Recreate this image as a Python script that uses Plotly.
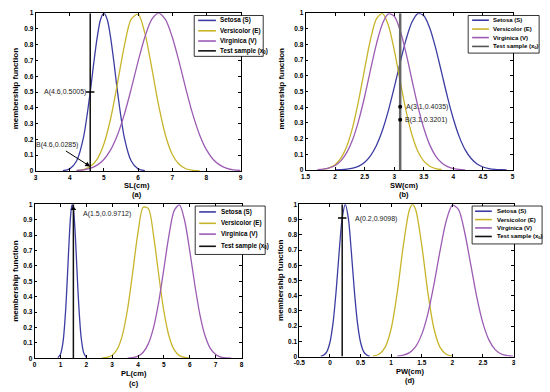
import plotly.graph_objects as go

# ---------------- data ----------------
# Panel (a): sepal length
sl_setosa_x = [3.8, 4.0, 4.2, 4.4, 4.6, 4.7, 4.8, 4.9, 5.0, 5.1, 5.2, 5.3, 5.4, 5.6, 5.8, 6.0, 6.2]
sl_setosa_y = [0.002, 0.013, 0.063, 0.21, 0.50, 0.678, 0.84, 0.958, 1.0, 0.958, 0.84, 0.678, 0.50, 0.21, 0.063, 0.013, 0.002]
sl_versi_x = [4.2, 4.4, 4.6, 4.8, 5.0, 5.2, 5.4, 5.6, 5.8, 6.0, 6.2, 6.4, 6.6, 6.8, 7.0, 7.2, 7.4, 7.6, 7.8]
sl_versi_y = [0.002, 0.009, 0.028, 0.074, 0.171, 0.334, 0.558, 0.794, 0.962, 0.993, 0.873, 0.655, 0.418, 0.228, 0.106, 0.042, 0.014, 0.004, 0.001]
sl_virg_x = [4.2, 4.4, 4.6, 4.8, 5.0, 5.2, 5.4, 5.6, 5.8, 6.0, 6.2, 6.4, 6.6, 6.8, 7.0, 7.2, 7.4, 7.6, 7.8, 8.0, 8.2, 8.4, 8.6, 8.8, 9.0]
sl_virg_y = [0.003, 0.007, 0.017, 0.037, 0.073, 0.135, 0.230, 0.360, 0.520, 0.693, 0.849, 0.960, 1.0, 0.960, 0.849, 0.693, 0.520, 0.360, 0.230, 0.135, 0.073, 0.037, 0.017, 0.007, 0.003]

# Panel (b): sepal width
sw_setosa_x = [2.0, 2.1, 2.2, 2.3, 2.4, 2.5, 2.6, 2.7, 2.8, 2.9, 3.0, 3.1, 3.2, 3.3, 3.4, 3.5, 3.6, 3.7, 3.8, 3.9, 4.0, 4.1, 4.2, 4.3, 4.4, 4.5, 4.6, 4.7, 4.8, 4.9]
sw_setosa_y = [0.001, 0.002, 0.005, 0.012, 0.025, 0.050, 0.092, 0.158, 0.253, 0.378, 0.527, 0.686, 0.833, 0.943, 0.997, 0.983, 0.905, 0.777, 0.622, 0.465, 0.325, 0.211, 0.128, 0.073, 0.038, 0.019, 0.009, 0.004, 0.002, 0.001]
sw_versi_x = [1.8, 1.9, 2.0, 2.1, 2.2, 2.3, 2.4, 2.5, 2.6, 2.7, 2.8, 2.9, 3.0, 3.1, 3.2, 3.3, 3.4, 3.5, 3.6, 3.7, 3.8]
sw_versi_y = [0.005, 0.014, 0.034, 0.077, 0.154, 0.278, 0.448, 0.647, 0.835, 0.965, 0.998, 0.923, 0.764, 0.566, 0.375, 0.223, 0.118, 0.056, 0.024, 0.009, 0.003]
sw_virg_x = [1.7, 1.8, 1.9, 2.0, 2.1, 2.2, 2.3, 2.4, 2.5, 2.6, 2.7, 2.8, 2.9, 3.0, 3.1, 3.2, 3.3, 3.4, 3.5, 3.6, 3.7, 3.8, 3.9, 4.0, 4.1, 4.2]
sw_virg_y = [0.002, 0.005, 0.013, 0.029, 0.060, 0.114, 0.198, 0.318, 0.470, 0.641, 0.806, 0.933, 0.996, 0.980, 0.889, 0.743, 0.572, 0.406, 0.266, 0.160, 0.089, 0.046, 0.021, 0.009, 0.004, 0.001]

# Panel (c): petal length
pl_setosa_x = [0.9, 1.0, 1.1, 1.2, 1.25, 1.3, 1.35, 1.4, 1.45, 1.5, 1.55, 1.6, 1.65, 1.7, 1.8, 1.9, 2.0]
pl_setosa_y = [0.004, 0.026, 0.106, 0.310, 0.466, 0.642, 0.811, 0.940, 0.998, 0.973, 0.869, 0.712, 0.535, 0.369, 0.135, 0.035, 0.006]
pl_versi_x = [2.6, 2.8, 3.0, 3.2, 3.4, 3.6, 3.8, 4.0, 4.2, 4.4, 4.6, 4.8, 5.0, 5.2, 5.4, 5.6, 5.8, 6.0]
pl_versi_y = [0.001, 0.005, 0.020, 0.060, 0.154, 0.325, 0.567, 0.820, 0.981, 0.972, 0.797, 0.541, 0.304, 0.141, 0.054, 0.017, 0.005, 0.001]
pl_virg_x = [3.6, 3.8, 4.0, 4.2, 4.4, 4.6, 4.8, 5.0, 5.2, 5.4, 5.6, 5.8, 6.0, 6.2, 6.4, 6.6, 6.8, 7.0, 7.2, 7.4, 7.6]
pl_virg_y = [0.001, 0.004, 0.014, 0.039, 0.095, 0.201, 0.367, 0.584, 0.804, 0.961, 0.996, 0.895, 0.697, 0.471, 0.276, 0.141, 0.062, 0.024, 0.008, 0.002, 0.001]

# Panel (d): petal width
pw_setosa_x = [-0.15, -0.10, -0.05, 0.0, 0.05, 0.10, 0.15, 0.20, 0.25, 0.30, 0.35, 0.40, 0.45, 0.50, 0.55, 0.60, 0.65]
pw_setosa_y = [0.002, 0.010, 0.033, 0.094, 0.220, 0.427, 0.685, 0.910, 1.0, 0.910, 0.685, 0.427, 0.220, 0.094, 0.033, 0.010, 0.002]
pw_versi_x = [0.7, 0.8, 0.9, 1.0, 1.1, 1.2, 1.3, 1.35, 1.4, 1.5, 1.6, 1.7, 1.8, 1.9, 2.0]
pw_versi_y = [0.003, 0.015, 0.061, 0.183, 0.421, 0.732, 0.966, 1.0, 0.966, 0.732, 0.421, 0.183, 0.061, 0.015, 0.003]
pw_virg_x = [1.1, 1.2, 1.3, 1.4, 1.5, 1.6, 1.7, 1.8, 1.9, 2.0, 2.1, 2.2, 2.3, 2.4, 2.5, 2.6, 2.7, 2.8, 2.9, 3.0]
pw_virg_y = [0.003, 0.009, 0.026, 0.066, 0.146, 0.281, 0.474, 0.696, 0.891, 0.994, 0.967, 0.820, 0.607, 0.391, 0.220, 0.108, 0.046, 0.017, 0.006, 0.002]

# Test sample values
test_x = [4.6, 3.1, 1.5, 0.2]
point_a = [(4.6, 0.5005), (4.6, 0.0285)]
point_b = [(3.1, 0.4035), (3.1, 0.3201)]
point_c = [(1.5, 0.9712)]
point_d = [(0.2, 0.9098)]

series_names = ["Setosa (S)", "Versicolor (E)", "Virginica (V)", "Test sample (x<sub>0</sub>)"]
x_titles = ["SL(cm)", "SW(cm)", "PL(cm)", "PW(cm)"]
panel_tags = ["(a)", "(b)", "(c)", "(d)"]
y_ticks = [0, 0.1, 0.2, 0.3, 0.4, 0.5, 0.6, 0.7, 0.8, 0.9, 1]
y_ticktext = ["0", "0.1", "0.2", "0.3", "0.4", "0.5", "0.6", "0.7", "0.8", "0.9", "1"]
xa_ticks = [3, 4, 5, 6, 7, 8, 9]
xb_ticks = [1.5, 2, 2.5, 3, 3.5, 4, 4.5, 5]
xb_ticktext = ["1.5", "2", "2.5", "3", "3.5", "4", "4.5", "5"]
xc_ticks = [0, 1, 2, 3, 4, 5, 6, 7, 8]
xd_ticks = [-0.5, 0, 0.5, 1, 1.5, 2, 2.5, 3]
xd_ticktext = ["-0.5", "0", "0.5", "1", "1.5", "2", "2.5", "3"]

# ---------------- styling ----------------
W, H = 550, 392
C_BLUE = "#3c3ca2"
C_YEL = "#c8b42a"
C_PUR = "#9c5cb4"
FONT = "Liberation Sans, Arial, sans-serif"


def fx(p):
    return p / W


def fy(p):
    return 1 - p / H


panels = [
    dict(xd=(30, 238), yd=(9.3, 170), xr=[3, 9], tv=xa_ticks, tt=[str(v) for v in xa_ticks],
         curves=[(sl_setosa_x, sl_setosa_y), (sl_versi_x, sl_versi_y), (sl_virg_x, sl_virg_y)],
         tcol="#111111", tw=1.5),
    dict(xd=(304, 514), yd=(9.3, 169), xr=[1.5, 5], tv=xb_ticks, tt=xb_ticktext,
         curves=[(sw_setosa_x, sw_setosa_y), (sw_versi_x, sw_versi_y), (sw_virg_x, sw_virg_y)],
         tcol="#666666", tw=2.5),
    dict(xd=(29, 239), yd=(204, 360.7), xr=[0, 8], tv=xc_ticks, tt=[str(v) for v in xc_ticks],
         curves=[(pl_setosa_x, pl_setosa_y), (pl_versi_x, pl_versi_y), (pl_virg_x, pl_virg_y)],
         tcol="#111111", tw=1.5),
    dict(xd=(297.7, 515), yd=(204, 359), xr=[-0.5, 3], tv=xd_ticks, tt=xd_ticktext,
         curves=[(pw_setosa_x, pw_setosa_y), (pw_versi_x, pw_versi_y), (pw_virg_x, pw_virg_y)],
         tcol="#111111", tw=1.5),
]

fig = go.Figure()
layout = dict(width=W, height=H, autosize=False, margin=dict(l=0, r=0, t=0, b=0),
              paper_bgcolor="white", plot_bgcolor="white", showlegend=False)
shapes = []
annotations = []
colors = [C_BLUE, C_YEL, C_PUR]

for i, p in enumerate(panels):
    n = "" if i == 0 else str(i + 1)
    xa, ya = "x" + n, "y" + n
    for (cx, cy), col, name in zip(p["curves"], colors, series_names):
        fig.add_trace(go.Scatter(x=cx, y=cy, mode="lines", name=name, xaxis=xa, yaxis=ya,
                                 line=dict(color=col, width=1.3, shape="spline", smoothing=0.8),
                                 showlegend=False))
    fig.add_trace(go.Scatter(x=[test_x[i], test_x[i]], y=[0, 1], mode="lines", name=series_names[3],
                             xaxis=xa, yaxis=ya, line=dict(color=p["tcol"], width=p["tw"]),
                             showlegend=False))
    axis_common = dict(showline=True, linecolor="black", linewidth=0.8, mirror="ticks",
                       ticks="inside", ticklen=3, tickwidth=0.8, tickcolor="black",
                       showgrid=False, zeroline=False,
                       tickfont=dict(family=FONT, size=6.5, color="black", weight="bold"))
    layout["xaxis" + n] = dict(domain=[fx(p["xd"][0]), fx(p["xd"][1])], range=p["xr"],
                               anchor=ya, tickmode="array", tickvals=p["tv"], ticktext=p["tt"],
                               **axis_common)
    layout["yaxis" + n] = dict(domain=[fy(p["yd"][1]), fy(p["yd"][0])], range=[0, 1],
                               anchor=xa, tickmode="array", tickvals=y_ticks, ticktext=y_ticktext,
                               **axis_common)

# markers on the test line
fig.add_trace(go.Scatter(x=[point_a[0][0]], y=[point_a[0][1]], mode="markers", xaxis="x", yaxis="y",
                         marker=dict(symbol="line-ew", size=6, line=dict(color="black", width=1.5)),
                         showlegend=False))
fig.add_trace(go.Scatter(x=[q[0] for q in point_b], y=[q[1] for q in point_b], mode="markers",
                         xaxis="x2", yaxis="y2", marker=dict(symbol="circle", size=4, color="black"),
                         showlegend=False))
fig.add_trace(go.Scatter(x=[point_c[0][0]], y=[point_c[0][1]], mode="markers", xaxis="x3", yaxis="y3",
                         marker=dict(symbol="triangle-up", size=5, color="black"), showlegend=False))
fig.add_trace(go.Scatter(x=[point_d[0][0]], y=[point_d[0][1]], mode="markers", xaxis="x4", yaxis="y4",
                         marker=dict(symbol="line-ew", size=6, line=dict(color="black", width=1.5)),
                         showlegend=False))

# point labels
lab_font = dict(family=FONT, size=7, color="#222222")
annotations += [
    dict(x=4.54, y=point_a[0][1], xref="x", yref="y", text="A(4.6,0.5005)", showarrow=False,
         xanchor="right", yanchor="middle", font=lab_font),
    dict(x=point_a[1][0], y=point_a[1][1], xref="x", yref="y", text="B(4.6,0.0285)", showarrow=True,
         arrowhead=2, arrowsize=1, arrowwidth=1, arrowcolor="black", ax=-33, ay=-21,
         font=lab_font),
    dict(x=3.17, y=point_b[0][1], xref="x2", yref="y2", text="A(3.1,0.4035)", showarrow=False,
         xanchor="left", yanchor="middle", font=lab_font),
    dict(x=3.14, y=point_b[1][1], xref="x2", yref="y2", text="B(3.1,0.3201)", showarrow=False,
         xanchor="left", yanchor="middle", font=lab_font),
    dict(x=1.78, y=0.94, xref="x3", yref="y3", text="A(1.5,0.0.9712)", showarrow=False,
         xanchor="left", yanchor="middle", font=lab_font),
    dict(x=0.38, y=0.902, xref="x4", yref="y4", text="A(0.2,0.9098)", showarrow=False,
         xanchor="left", yanchor="middle", font=lab_font),
]

# axis titles
title_font = dict(family=FONT, size=7.5, color="black", weight="bold")
xt_pos = [(133, 184.5, 193.5), (404, 184.5, 194), (130, 376, 386), (410, 374.5, 383.5)]
yt_pos = [(10, 86), (280, 86), (10, 282), (279, 281)]
for i in range(4):
    cx, y1, y2 = xt_pos[i]
    annotations.append(dict(x=fx(cx), y=fy(y1), xref="paper", yref="paper", text=x_titles[i],
                            showarrow=False, xanchor="center", yanchor="middle", font=title_font))
    annotations.append(dict(x=fx(cx), y=fy(y2), xref="paper", yref="paper", text=panel_tags[i],
                            showarrow=False, xanchor="center", yanchor="middle", font=title_font))
    tx, ty = yt_pos[i]
    annotations.append(dict(x=fx(tx), y=fy(ty), xref="paper", yref="paper", text="membership function",
                            showarrow=False, xanchor="center", yanchor="middle", textangle=-90,
                            font=dict(family=FONT, size=8, color="black", weight="bold")))

# legend boxes (one per panel)
legend_specs = [
    dict(box=(191, 11.7, 261, 53.3), rows=[16.7, 27.3, 37.7, 47.7], sx=(195, 213), tx=215, fs=6.3,
         tcol="#111111"),
    dict(box=(469, 11.7, 541, 50), rows=[16.5, 25.5, 34.2, 43.2], sx=(473, 490), tx=492, fs=6,
         tcol="#555555"),
    dict(box=(192, 205.7, 263, 255), rows=[211.7, 223.3, 234.3, 246.7], sx=(196, 213), tx=216, fs=6.3,
         tcol="#111111"),
    dict(box=(473, 205.7, 544, 244.3), rows=[211, 219.5, 228, 236.7], sx=(476, 493), tx=496, fs=6,
         tcol="#111111"),
]
for spec in legend_specs:
    x0, y0, x1, y1 = spec["box"]
    shapes.append(dict(type="rect", xref="paper", yref="paper", x0=fx(x0), x1=fx(x1), y0=fy(y1), y1=fy(y0),
                       line=dict(color="black", width=0.8), fillcolor="white", layer="above"))
    cols = colors + [spec["tcol"]]
    for r, col, name in zip(spec["rows"], cols, series_names):
        shapes.append(dict(type="line", xref="paper", yref="paper", x0=fx(spec["sx"][0]), x1=fx(spec["sx"][1]),
                           y0=fy(r), y1=fy(r), line=dict(color=col, width=1.6), layer="above"))
        annotations.append(dict(x=fx(spec["tx"]), y=fy(r), xref="paper", yref="paper", text=name,
                                showarrow=False, xanchor="left", yanchor="middle",
                                font=dict(family=FONT, size=spec["fs"], color="black", weight="bold")))

layout["shapes"] = shapes
layout["annotations"] = annotations
fig.update_layout(**layout)
fig.write_html("out.html", config={"displayModeBar": False},
               post_script="document.documentElement.style.overflow='hidden';"
                           "document.body.style.margin='0';document.body.style.overflow='hidden';")
